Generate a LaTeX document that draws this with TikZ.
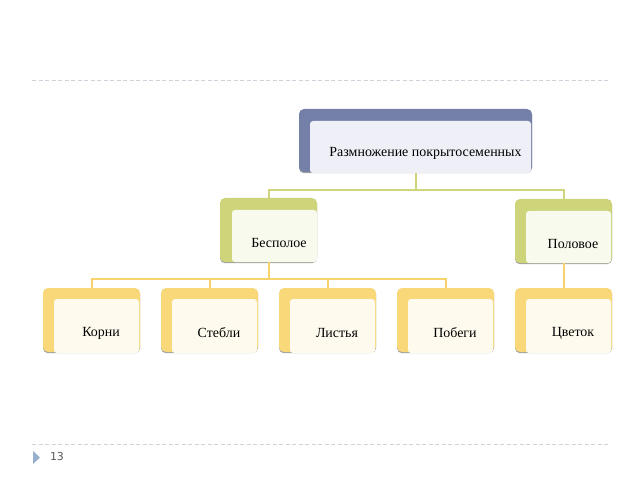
\documentclass[tikz,border=0pt]{standalone}
\usepackage{fontspec}
\setmainfont{Liberation Serif}
\newfontfamily\numfont{DejaVu Sans}
\usetikzlibrary{positioning, calc, shadows}

\definecolor{topback}{RGB}{117,128,169}
\definecolor{topfront}{RGB}{239,240,247}
\definecolor{midback}{RGB}{205,212,122}
\definecolor{midfront}{RGB}{249,250,238}
\definecolor{lowback}{RGB}{248,216,121}
\definecolor{lowfront}{RGB}{254,251,238}
\definecolor{midline}{RGB}{208,213,125}
\definecolor{lowline}{RGB}{247,211,110}
\definecolor{sepgray}{RGB}{205,211,218}
\definecolor{trianglec}{RGB}{150,175,205}
\definecolor{numgray}{RGB}{90,90,90}
\definecolor{shadowc}{RGB}{160,160,160}

\begin{document}
\begin{tikzpicture}[x=1bp, y=-1bp,
      card/.style={rounded corners=5bp, minimum height=64bp, inner sep=0pt,
        drop shadow={opacity=1, fill=shadowc, shadow xshift=0pt, shadow yshift=-1.2bp}},
      panel/.style={rounded corners=3bp, minimum height=54bp, inner sep=0pt, anchor=north west},
      caption/.style={font=\fontsize{14}{16}\selectfont, inner sep=0pt, xshift=4.5bp, yshift=-7bp},
      link/.style={line width=2bp},
      sep/.style={line width=1bp, sepgray, dash pattern=on 4bp off 2.5bp}
    ]
      \fill[white] (0,0) rectangle (640,480);
      \useasboundingbox (0,0) rectangle (640,480);

      % Separators and slide number
      \draw[sep] (32,80.5) -- (610,80.5);
      \draw[sep] (32,444.5) -- (610,444.5);
      \fill[trianglec] (33,451) -- (40,457.5) -- (33,464) -- cycle;
      \node[font=\numfont\fontsize{11}{13}\selectfont, text=numgray, inner sep=0pt] (pgnum) at (57,456.5) {13};

      % Top card
      \node[card, fill=topback, minimum width=233bp, minimum height=63bp] (razm) at (415.5,140.5) {};
      \node[panel, fill=topfront, minimum width=221bp, minimum height=52bp,
        label={[caption, xshift=0.5bp, yshift=1bp]center:Размножение покрытосеменных}] (razm-p) at ([shift={(11,12)}]razm.north west) {};

      % Middle cards
      \node[card, fill=midback, minimum width=97bp] (bespol) at (268.5,230) {};
      \node[card, fill=midback, minimum width=97bp] (polov) at (563.5,231) {};
      \node[panel, fill=midfront, minimum width=85bp, minimum height=52bp,
        label={[caption]center:Бесполое}] (bespol-p) at ([shift={(12,12)}]bespol.north west) {};
      \node[panel, fill=midfront, minimum width=85bp, minimum height=52bp,
        label={[caption]center:Половое}] (polov-p) at ([shift={(11,12)}]polov.north west) {};

      % Bottom cards
      \node[card, fill=lowback, minimum width=97bp] (korni) at (91.5,320) {};
      \node[card, fill=lowback, minimum width=97bp] (stebli) at (209.5,320) {};
      \node[card, fill=lowback, minimum width=97bp] (listya) at (327.5,320) {};
      \node[card, fill=lowback, minimum width=97bp] (pobegi) at (445.5,320) {};
      \node[card, fill=lowback, minimum width=97bp] (tsvetok) at (563.5,320) {};
      \node[panel, fill=lowfront, minimum width=85bp, label={[caption]center:Корни}] (korni-p) at ([shift={(11,11)}]korni.north west) {};
      \node[panel, fill=lowfront, minimum width=85bp, label={[caption]center:Стебли}] (stebli-p) at ([shift={(11,11)}]stebli.north west) {};
      \node[panel, fill=lowfront, minimum width=85bp, label={[caption]center:Листья}] (listya-p) at ([shift={(11,11)}]listya.north west) {};
      \node[panel, fill=lowfront, minimum width=85bp, label={[caption]center:Побеги}] (pobegi-p) at ([shift={(11,11)}]pobegi.north west) {};
      \node[panel, fill=lowfront, minimum width=85bp, label={[caption]center:Цветок}] (tsvetok-p) at ([shift={(11,11)}]tsvetok.north west) {};

      % Connectors
      \draw[link, midline] (razm-p.south -| razm.south) -- ++(0,16.5) -| (bespol.north);
      \draw[link, midline] (razm-p.south -| razm.south) -- ++(0,16.5) -| (polov.north);
      \foreach \leaf in {korni, stebli, listya, pobegi}
        \draw[link, lowline] (bespol-p.south -| bespol.south) -- ++(0,16.5) -| (\leaf.north);
      \draw[link, lowline] (polov-p.south -| polov.south) -- (tsvetok.north);
    \end{tikzpicture}
\end{document}
